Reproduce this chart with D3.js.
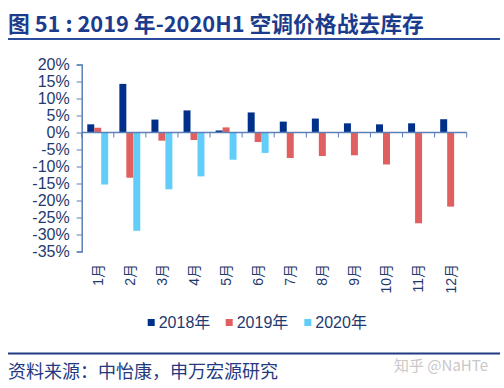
<!DOCTYPE html>
<html>
<head>
<meta charset="utf-8">
<script src="https://cdn.jsdelivr.net/npm/d3@7"></script>
<style>
  body { margin: 0; background: #fff; }
  svg { display: block; font-family: "Liberation Sans", Arial, "Noto Sans CJK SC", sans-serif; }
</style>
</head>
<body>
<svg id="chart" width="504" height="388"></svg>
<script>
const months = ["1月", "2月", "3月", "4月", "5月", "6月", "7月", "8月", "9月", "10月", "11月", "12月"];
const seriesNames = ["2018年", "2019年", "2020年"];
const v2018 = [2.4, 14.3, 3.8, 6.5, 0.6, 5.9, 3.2, 4.1, 2.7, 2.4, 2.7, 3.9];
const v2019 = [1.4, -13.3, -2.4, -2.2, 1.5, -2.8, -7.5, -6.9, -6.7, -9.4, -26.7, -21.8];
const v2020 = [-15.3, -28.9, -16.7, -12.9, -8.0, -6.0, null, null, null, null, null, null];
const yTicks = [20, 15, 10, 5, 0, -5, -10, -15, -20, -25, -30, -35];
const colors = ["#00308a", "#e05f5f", "#62cdf8"];

const svg = d3.select("#chart");
const cjk = "'Noto Sans CJK SC', sans-serif";

// title + rule
svg.append("text")
  .attr("x", 8).attr("y", 32)
  .attr("font-family", cjk).attr("font-weight", "bold")
  .attr("font-size", 21.8).attr("fill", "#1b3c8c")
  .text("图 51 : 2019 年-2020H1 空调价格战去库存");
svg.append("line").attr("x1", 8).attr("x2", 500).attr("y1", 39).attr("y2", 39)
  .attr("stroke", "#2b4c9c").attr("stroke-width", 2);

const x = d3.scaleBand().domain(months).range([81.7, 466.7]).padding(0);
const xs = d3.scaleBand().domain(seriesNames).range([0, x.bandwidth()]).paddingInner(0).paddingOuter(0.8);
const y = d3.scaleLinear().domain([-35, 20]).range([251.5, 64.5]);

const table = months.map((m, i) => ({ month: m, values: [v2018[i], v2019[i], v2020[i]] }));

// bars
const groups = svg.append("g").selectAll("g")
  .data(table).enter().append("g")
  .attr("transform", d => `translate(${x(d.month)},0)`);
groups.selectAll("rect")
  .data(d => d.values.map((v, k) => ({ name: seriesNames[k], v, k })).filter(d => d.v !== null))
  .enter().append("rect")
  .attr("x", d => xs(d.name))
  .attr("width", xs.bandwidth())
  .attr("y", d => y(Math.max(0, d.v)))
  .attr("height", d => Math.abs(y(d.v) - y(0)))
  .attr("fill", d => colors[d.k]);

// y axis
const axisColor = "#5b7fb8";
const yAxis = svg.append("g").attr("transform", "translate(81.7,0)")
  .call(d3.axisLeft(y).tickValues(yTicks).tickSize(5).tickPadding(7).tickFormat(d => d + "%"));
yAxis.select(".domain").attr("stroke", axisColor).attr("stroke-width", 1.5);
yAxis.selectAll(".tick line").attr("stroke", axisColor);
yAxis.selectAll(".tick text").attr("fill", "#1f3a6e").attr("font-size", 16)
  .attr("font-family", "'Liberation Sans', Arial, sans-serif");

// x axis at zero
const y0 = y(0);
svg.append("line").attr("x1", x.range()[0]).attr("x2", x.range()[1])
  .attr("y1", y0).attr("y2", y0).attr("stroke", axisColor).attr("stroke-width", 1.5);
const bounds = months.map(m => x(m)).concat([x.range()[1]]);
svg.append("g").selectAll("line").data(bounds).enter().append("line")
  .attr("x1", d => d).attr("x2", d => d)
  .attr("y1", y0).attr("y2", y0 + 5)
  .attr("stroke", axisColor).attr("stroke-width", 1);

// month labels
svg.append("g").selectAll("text").data(months).enter().append("text")
  .attr("transform", d => `translate(${x(d) + x.bandwidth() / 2},264) rotate(-90)`)
  .attr("text-anchor", "end").attr("dy", "0.35em")
  .attr("font-size", 14).attr("fill", "#1f3a6e")
  .text(d => d);

// legend
const legendX = [147.7, 225.7, 304.3];
const leg = svg.append("g").selectAll("g").data(seriesNames).enter().append("g")
  .attr("transform", (d, i) => `translate(${legendX[i]},322.5)`);
leg.append("rect").attr("x", 0).attr("y", -3.5).attr("width", 7).attr("height", 7)
  .attr("fill", (d, i) => colors[i]);
leg.append("text").attr("x", 11).attr("dy", "0.35em")
  .attr("font-size", 16).attr("fill", "#1f3a6e").text(d => d);

// footer
svg.append("line").attr("x1", 8).attr("x2", 500).attr("y1", 353.5).attr("y2", 353.5)
  .attr("stroke", "#1f3a80").attr("stroke-width", 2);
svg.append("text").attr("x", 8).attr("y", 378)
  .attr("font-family", cjk).attr("font-size", 18).attr("fill", "#1f3a80")
  .text("资料来源：中怡康，申万宏源研究");
svg.append("text").attr("x", 394).attr("y", 371)
  .attr("font-family", cjk).attr("font-size", 15).attr("fill", "#c8c8c8")
  .text("知乎 @NaHTe");
</script>
</body>
</html>
